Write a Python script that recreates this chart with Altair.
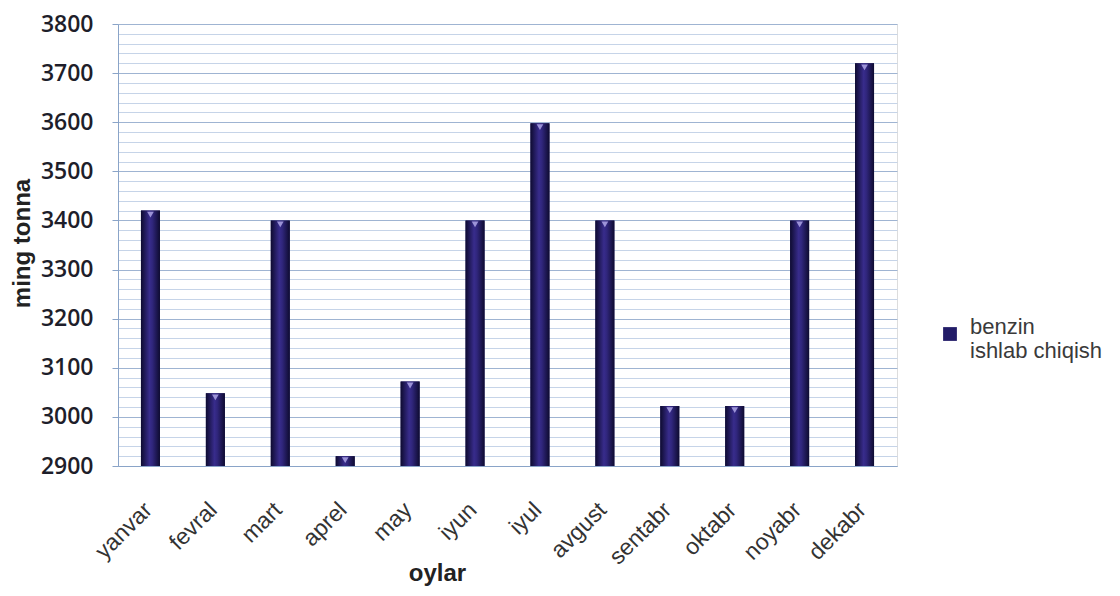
import altair as alt
import pandas as pd

months = ["yanvar", "fevral", "mart", "aprel", "may", "iyun",
          "iyul", "avgust", "sentabr", "oktabr", "noyabr", "dekabr"]
values = [3420, 3048, 3400, 2920, 3072, 3400, 3598, 3400, 3022, 3022, 3400, 3720]
series_name = "benzin ishlab chiqish"
legend_lines = ["benzin", "ishlab chiqish"]
y_min, y_max = 2900, 3800
y_ticks = list(range(2900, 3801, 20))

df = pd.DataFrame({"oy": months, "qiymat": values, "seriya": series_name})

gradient = {
    "gradient": "linear", "x1": 0, "x2": 1, "y1": 0, "y2": 0,
    "stops": [
        {"offset": 0.0, "color": "#0e0b30"},
        {"offset": 0.45, "color": "#382c8c"},
        {"offset": 0.6, "color": "#30267c"},
        {"offset": 1.0, "color": "#0e0b30"},
    ],
}

x_axis = alt.Axis(
    labelAngle=-45, labelAlign="right", labelBaseline="middle",
    labelPadding=40, labelOffset=-2, ticks=False,
    labelFont="Liberation Sans", labelFontSize=23, labelColor="#333333",
    titleFont="Liberation Sans", titleFontSize=24, titleFontWeight="bold",
    titleColor="#222222", titleX=319, titleY=107, titleBaseline="middle",
    domainColor="#8aa4c8", grid=False,
)

y_axis = alt.Axis(
    values=y_ticks, tickCount=200, labelOverlap=False,
    labelExpr="datum.value % 100 === 0 ? datum.label : ''",
    format="d",
    labelFont="Open Sans", labelFontSize=23, labelFontWeight=600,
    labelColor="#1e1e2a", labelPadding=19,
    tickSize=6,
    tickColor={"condition": {"test": "datum.value % 100 === 0", "value": "#8aa4c8"},
               "value": "transparent"},
    gridColor={"condition": {"test": "datum.value % 100 === 0", "value": "#9fb4d2"},
               "value": "#c6d4e8"},
    gridWidth=1,
    domainColor="#8aa4c8",
    titleFont="Liberation Sans", titleFontSize=24, titleFontWeight="bold",
    titleColor="#222222", titleX=-96, titleY=219, titleBaseline="middle",
    titleAngle=-90,
)

x_enc = alt.X("oy:N", sort=months, title="oylar",
              scale=alt.Scale(paddingInner=0.0, paddingOuter=0.0), axis=x_axis)
y_enc = alt.Y("qiymat:Q", title="ming tonna",
              scale=alt.Scale(domain=[y_min, y_max], zero=False, nice=False),
              axis=y_axis)

# base layer carries the legend
base = alt.Chart(df).mark_bar(size=19).encode(
    x=x_enc,
    y=y_enc,
    y2=alt.datum(y_min),
    color=alt.Color(
        "seriya:N",
        scale=alt.Scale(range=["#221c68"]),
        legend=alt.Legend(
            title=None, orient="none", legendX=821, legendY=299,
            symbolType="square", symbolSize=190, symbolStrokeWidth=0,
            labelExpr=str(legend_lines).replace('"', "'"),
            labelBaseline="alphabetic",
            labelFont="Liberation Sans", labelFontSize=22, labelColor="#3a3a3a",
            labelOffset=9, labelLimit=300,
        ),
    ),
)

# shaded bars on top
shaded = alt.Chart(df).mark_bar(size=19, fill=gradient).encode(
    x=alt.X("oy:N", sort=months),
    y=alt.Y("qiymat:Q"),
    y2=alt.datum(y_min),
)

caps = alt.Chart(df).mark_point(
    shape="triangle-down", filled=True, size=45, color="#a79ee0", yOffset=4, opacity=0.9
).encode(
    x=alt.X("oy:N", sort=months),
    y=alt.Y("qiymat:Q"),
)

chart = alt.layer(base, shaded, caps).properties(
    width=779, height=442,
    autosize=alt.AutoSizeParams(type="none"),
    padding={"left": 110, "top": 16, "right": 215, "bottom": 122},
).configure_view(stroke=None).configure(background="white")

chart.save("out.html", embed_options={"renderer": "svg", "actions": False})
